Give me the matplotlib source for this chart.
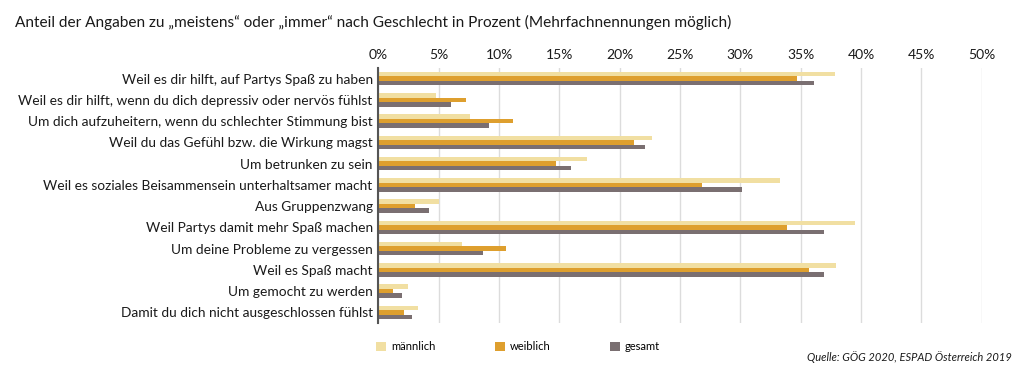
"""
Horizontal grouped bar chart: reasons for drinking, by gender (ESPAD 2019).
"""

import matplotlib

matplotlib.use("Agg")

import matplotlib.pyplot as plt
import numpy as np
from matplotlib.patches import Patch

plt.rcParams["font.family"] = ["Lato", "DejaVu Sans"]

TITLE = "Anteil der Angaben zu \u201emeistens\u201c oder \u201eimmer\u201c nach Geschlecht in Prozent (Mehrfachnennungen möglich)"
SOURCE = "Quelle: GÖG 2020, ESPAD Österreich 2019"

categories = [
    "Weil es dir hilft, auf Partys Spaß zu haben",
    "Weil es dir hilft, wenn du dich depressiv oder nervös fühlst",
    "Um dich aufzuheitern, wenn du schlechter Stimmung bist",
    "Weil du das Gefühl bzw. die Wirkung magst",
    "Um betrunken zu sein",
    "Weil es soziales Beisammensein unterhaltsamer macht",
    "Aus Gruppenzwang",
    "Weil Partys damit mehr Spaß machen",
    "Um deine Probleme zu vergessen",
    "Weil es Spaß macht",
    "Um gemocht zu werden",
    "Damit du dich nicht ausgeschlossen fühlst",
]

maennlich = [37.8, 4.8, 7.6, 22.7, 17.3, 33.3, 5.0, 39.5, 6.9, 37.9, 2.5, 3.3]
weiblich = [34.7, 7.3, 11.2, 21.2, 14.7, 26.8, 3.0, 33.9, 10.6, 35.7, 1.2, 2.1]
gesamt = [36.1, 6.0, 9.2, 22.1, 16.0, 30.1, 4.2, 36.9, 8.7, 36.9, 2.0, 2.8]

series_names = ["männlich", "weiblich", "gesamt"]
colors = ["#F1DFA2", "#DE9F2E", "#7A6F71"]

x_ticks = [0, 5, 10, 15, 20, 25, 30, 35, 40, 45, 50]


def main() -> None:
    fig = plt.figure(figsize=(10.24, 3.81), dpi=100)
    ax = fig.add_axes([378.3 / 1024, 1 - 323 / 381, 603.5 / 1024, 255 / 381])

    y = np.arange(len(categories))
    h = 0.21
    for k, (vals, col) in enumerate(zip([maennlich, weiblich, gesamt], colors)):
        ax.barh(y + (k - 1) * h, vals, height=h, color=col, zorder=3)

    ax.set_ylim(len(categories) - 0.5, -0.5)
    ax.set_xlim(0, 50)
    ax.set_yticks(y)
    ax.set_yticklabels(categories, fontsize=9.9, color="#1a1a1a")
    ax.tick_params(axis="y", length=0, pad=4)

    ax.xaxis.tick_top()
    ax.set_xticks(x_ticks)
    ax.set_xticklabels([f"{t}%" for t in x_ticks], fontsize=10, color="#1a1a1a")
    ax.tick_params(axis="x", length=0, pad=5)
    ax.grid(axis="x", color="#dcdcdc", lw=1, zorder=0)

    for side in ["top", "right", "bottom"]:
        ax.spines[side].set_visible(False)
    ax.spines["left"].set_color("#555555")
    ax.spines["left"].set_linewidth(1.5)
    ax.spines["left"].set_zorder(4)

    fig.text(15 / 1024, 1 - 22 / 381, TITLE, fontsize=11.1, va="center", ha="left",
             color="#1a1a1a")

    handles = [Patch(facecolor=c, edgecolor="none") for c in colors]
    fig.legend(handles, series_names, loc="center left",
               bbox_to_anchor=(372 / 1024, 1 - 347 / 381), ncol=3, frameon=False,
               fontsize=8, handlelength=0.9, handleheight=0.9, handletextpad=0.4,
               columnspacing=5.4, borderaxespad=0)

    fig.text(1012 / 1024, 1 - 357 / 381, SOURCE, fontsize=8, style="italic",
             ha="right", va="center", color="#1a1a1a")

    fig.savefig("out.png", dpi=100)
    plt.close(fig)


if __name__ == "__main__":
    main()
